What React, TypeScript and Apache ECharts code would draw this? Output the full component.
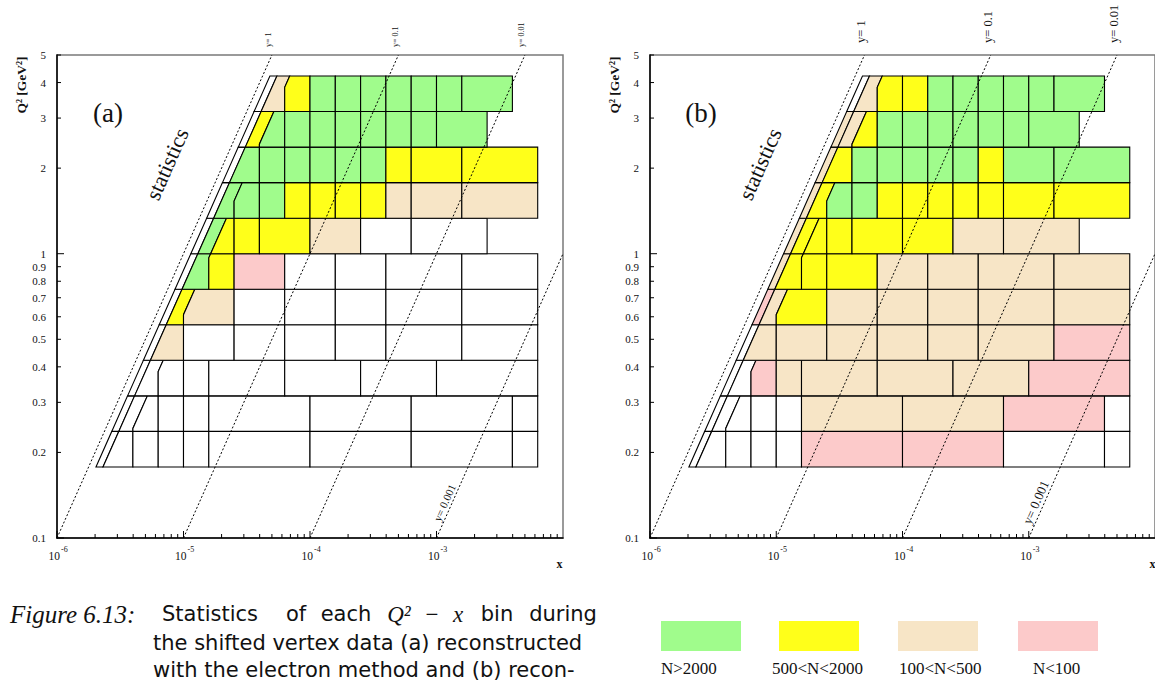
import React, { useEffect, useRef } from 'react';
import * as echarts from 'echarts';

// ---------- data ----------
const S_CM = 1e5; // Q^2 = s * x * y  (GeV^2)
const X_MIN = 1e-6;
const X_MAX = 1e-2;
const Q2_MIN = 0.1;
const Q2_MAX = 5;

// kinematic cut lines (in y) that bound the left-most bins
const Y_CUT_A = 0.875;
const Y_CUT_B = 0.77;
const Y_CUT_C = 0.61;

// x bin edges (5 per decade)
const X_EDGES = [
  1e-6, 1.585e-6, 2.512e-6, 3.981e-6, 6.31e-6,
  1e-5, 1.585e-5, 2.512e-5, 3.981e-5, 6.31e-5,
  1e-4, 1.585e-4, 2.512e-4, 3.981e-4, 6.31e-4,
  1e-3, 1.585e-3, 2.512e-3, 3.981e-3, 6.31e-3, 1e-2,
];
// Q^2 bin edges (8 per decade)
const Q2_EDGES = [0.1778, 0.2371, 0.3162, 0.4217, 0.5623, 0.7499, 1.0, 1.3335, 1.7783, 2.3714, 3.1623, 4.217];

// bin boundaries of each Q^2 row: 'A','B' = slanted cut lines, k = x edge index (clipped by cut C)
const ROW_BOUNDS: (string | number)[][] = [
  ['A', 'B', 3, 4, 5, 6, 10, 14, 18, 19],
  ['A', 'B', 3, 4, 5, 6, 10, 14, 18, 19],
  ['A', 'B', 4, 5, 6, 9, 12, 15, 19],
  ['A', 'B', 5, 7, 9, 11, 13, 16, 19],
  ['A', 'B', 5, 7, 9, 11, 13, 16, 19],
  ['A', 'B', 6, 7, 9, 11, 13, 16, 19],
  ['A', 'B', 6, 7, 8, 10, 12, 14, 17],
  ['A', 'B', 7, 8, 9, 10, 11, 12, 13, 14, 16, 19],
  ['A', 'B', 8, 9, 10, 11, 12, 13, 14, 16, 19],
  ['A', 'B', 8, 9, 10, 11, 12, 13, 14, 15, 17],
  ['A', 'B', 9, 10, 11, 12, 13, 14, 15, 16, 18],
];

// statistics class of each bin: g N>2000, y 500<N<2000, t 100<N<500, p N<100, w empty
const STATS_A = [
  'wwwwwwwww', 'wwwwwwwww', 'wwwwwwww', 'wtwwwwww', 'wytwwwww', 'wgypwwww',
  'wgyyytww', 'wgggyyyyttt', 'wggggggyyy', 'wygggggggg', 'wtyggggggg',
];
const STATS_B = [
  'wwwwwppww', 'wwwwwttpw', 'wwpttttp', 'wttttttp', 'ptyttttt', 'tyyytttt',
  'tyyyyytt', 'tyggyyyyyyy', 'tygggggygg', 'ttyggggggg', 'wtyygggggg',
];

const CLASS_CODES = ['g', 'y', 't', 'p'];
const CLASS_LABELS = ['N>2000', '500<N<2000', '100<N<500', 'N<100'];
const CLASS_COLORS = ['#a0fc8c', '#ffff1a', '#f7e5c6', '#fccaca'];

const Y_LINES = [1, 0.1, 0.01, 0.001];
const Y_LINE_LABELS = ['y= 1', 'y= 0.1', 'y= 0.01', 'y= 0.001'];

const X_DECADES = [1e-6, 1e-5, 1e-4, 1e-3];
const X_DECADE_EXP = ['-6', '-5', '-4', '-3'];
const MINOR_MULT = [2, 3, 4, 5, 6, 7, 8, 9];
const Y_TICKS = [0.1, 0.2, 0.3, 0.4, 0.5, 0.6, 0.7, 0.8, 0.9, 1, 2, 3, 4, 5];
const Y_TICK_LABELS = ['0.1', '0.2', '0.3', '0.4', '0.5', '0.6', '0.7', '0.8', '0.9', '1', '2', '3', '4', '5'];

// ---------- layout ----------
const PANELS = [
  { left: 57, stats: STATS_A, tag: '(a)', yLabFont: 8, yLabGap: 8, y001Font: 11, y001Off: 7 },
  { left: 650, stats: STATS_B, tag: '(b)', yLabFont: 12.5, yLabGap: 12, y001Font: 13, y001Off: 8 },
];
const GRID_TOP = 55;
const GRID_W = 506;
const GRID_H = 483;
const SERIF = '"Liberation Serif", "Times New Roman", serif';
const SANS = '"DejaVu Sans", sans-serif';

function fillOf(code: string): string {
  const i = CLASS_CODES.indexOf(code);
  return i >= 0 ? CLASS_COLORS[i] : '#ffffff';
}

function boundaryPts(code: string | number, q1: number, q2: number): number[][] {
  if (code === 'A' || code === 'B') {
    const yc = code === 'A' ? Y_CUT_A : Y_CUT_B;
    return [[q1 / (S_CM * yc), q1], [q2 / (S_CM * yc), q2]];
  }
  const xk = X_EDGES[code as number];
  const f = (q: number) => Math.max(xk, q / (S_CM * Y_CUT_C));
  const pts = [[f(q1), q1]];
  const qc = xk * S_CM * Y_CUT_C;
  if (qc > q1 && qc < q2) pts.push([xk, qc]);
  pts.push([f(q2), q2]);
  return pts;
}

type Cell = { poly: number[][]; fill: string; xm: number; qm: number };
function buildCells(stats: string[]): Cell[] {
  const out: Cell[] = [];
  ROW_BOUNDS.forEach((bounds, r) => {
    const q1 = Q2_EDGES[r];
    const q2 = Q2_EDGES[r + 1];
    for (let i = 0; i < bounds.length - 1; i++) {
      const L = boundaryPts(bounds[i], q1, q2);
      const R = boundaryPts(bounds[i + 1], q1, q2);
      const poly = [...L, ...R.slice().reverse()];
      out.push({
        poly,
        fill: fillOf(stats[r][i]),
        xm: Math.sqrt(L[0][0] * R[0][0]),
        qm: Math.sqrt(q1 * q2),
      });
    }
  });
  return out;
}

function txt(x: number, y: number, text: string, o: any = {}) {
  return {
    type: 'text',
    x,
    y,
    rotation: o.rotation || 0,
    silent: true,
    z: o.z || 10,
    style: {
      text,
      fill: o.fill || '#111',
      fontSize: o.size || 11,
      fontFamily: o.family || SERIF,
      fontStyle: o.style || 'normal',
      fontWeight: o.weight || 'normal',
      align: o.align || 'center',
      verticalAlign: o.valign || 'middle',
      textAlign: o.align || 'center',
      textVerticalAlign: o.valign || 'middle',
    },
  };
}

function overlayRender(pi: number) {
  const P = PANELS[pi];
  return (params: any, api: any) => {
    const c = (x: number, q: number) => api.coord([x, q]);
    const ch: any[] = [];
    // y = const lines
    Y_LINES.forEach((yv, li) => {
      let x0 = Q2_MIN / (S_CM * yv), q0 = Q2_MIN;
      if (x0 < X_MIN) { x0 = X_MIN; q0 = S_CM * yv * X_MIN; }
      let x1 = Q2_MAX / (S_CM * yv), q1 = Q2_MAX;
      if (x1 > X_MAX) { x1 = X_MAX; q1 = S_CM * yv * X_MAX; }
      const a = c(x0, q0);
      const b = c(x1, q1);
      ch.push({
        type: 'line',
        shape: { x1: a[0], y1: a[1], x2: b[0], y2: b[1] },
        style: { stroke: '#000', lineWidth: 1, lineDash: [2, 2] },
      });
      if (q1 >= Q2_MAX - 1e-9) {
        ch.push(txt(b[0] - 3, b[1] - P.yLabGap, Y_LINE_LABELS[li], {
          rotation: Math.PI / 2, align: 'left', size: P.yLabFont,
        }));
      } else {
        const dx = b[0] - a[0];
        const dy = b[1] - a[1];
        const len = Math.hypot(dx, dy);
        const ux = dx / len, uy = dy / len;
        const qa = 0.13;
        const p = c(qa / (S_CM * yv), qa);
        ch.push(txt(p[0] + uy * P.y001Off, p[1] - ux * P.y001Off, Y_LINE_LABELS[li], {
          rotation: Math.atan2(-dy, dx), size: P.y001Font,
        }));
      }
    });
    // x ticks and labels
    X_DECADES.forEach((d, di) => {
      const p = c(d, Q2_MIN);
      ch.push({ type: 'line', shape: { x1: p[0], y1: p[1], x2: p[0], y2: p[1] - 7 }, style: { stroke: '#000', lineWidth: 1 } });
      MINOR_MULT.forEach((m) => {
        const v = m * d;
        if (v >= X_MAX) return;
        const pm = c(v, Q2_MIN);
        ch.push({ type: 'line', shape: { x1: pm[0], y1: pm[1], x2: pm[0], y2: pm[1] - 4 }, style: { stroke: '#000', lineWidth: 1 } });
      });
      ch.push(txt(p[0] + 3, p[1] + 18, '10', { align: 'right', size: 11.5 }));
      ch.push(txt(p[0] + 4, p[1] + 11, X_DECADE_EXP[di], { align: 'left', size: 8 }));
    });
    // y ticks and labels
    Y_TICKS.forEach((v, i) => {
      const p = c(X_MIN, v);
      const L = v === 1 || v === 0.1 ? 7 : 4;
      ch.push({ type: 'line', shape: { x1: p[0], y1: p[1], x2: p[0] + L, y2: p[1] }, style: { stroke: '#000', lineWidth: 1 } });
      ch.push(txt(p[0] - 11, p[1], Y_TICK_LABELS[i], { align: 'right', size: 11 }));
    });
    return { type: 'group', children: ch };
  };
}

function buildOption() {
  const series: any[] = [];
  PANELS.forEach((P, pi) => {
    const cells = buildCells(P.stats);
    series.push({
      type: 'custom',
      coordinateSystem: 'cartesian2d',
      xAxisIndex: pi,
      yAxisIndex: pi,
      silent: true,
      z: 2,
      data: cells.map((cl, i) => [cl.xm, cl.qm, i]),
      encode: { x: 0, y: 1 },
      renderItem: (params: any, api: any) => {
        const cl = cells[params.dataIndex];
        const pts = cl.poly.map((v) => api.coord(v));
        return {
          type: 'polygon',
          shape: { points: pts },
          style: { fill: cl.fill, stroke: '#000', lineWidth: 1.1 },
        };
      },
    });
    series.push({
      type: 'custom',
      coordinateSystem: 'cartesian2d',
      xAxisIndex: pi,
      yAxisIndex: pi,
      silent: true,
      z: 5,
      data: [[1e-4, 1]],
      encode: { x: 0, y: 1 },
      renderItem: overlayRender(pi),
    });
  });

  const graphic: any[] = [];
  PANELS.forEach((P) => {
    const L = P.left;
    graphic.push(txt(L + 51, 113, P.tag, { size: 27 }));
    graphic.push(txt(L + 110, 164, 'statistics', { size: 22, rotation: (66 * Math.PI) / 180 }));
    graphic.push(txt(L - 36, 85, 'Q² [GeV²]', { size: 13.5, weight: 'bold', rotation: Math.PI / 2 }));
    graphic.push(txt(L + GRID_W - 3.5, 564, 'x', { size: 12, weight: 'bold' }));
  });
  // caption
  const CAP1 = 614;
  const CAP2 = 643;
  const CAP3 = 670;
  graphic.push(txt(10, CAP1, 'Figure 6.13:', { align: 'left', size: 25, style: 'italic' }));
  const words: [number, string, any][] = [
    [210, 'Statistics', {}],
    [296, 'of', {}],
    [346, 'each', {}],
    [399, 'Q²', { family: SERIF, style: 'italic', size: 23 }],
    [432, '−', { family: SERIF, size: 23 }],
    [458, 'x', { family: SERIF, style: 'italic', size: 23 }],
    [497, 'bin', {}],
    [563, 'during', {}],
  ];
  words.forEach(([x, w, o]) => graphic.push(txt(x, CAP1, w, { size: 21, family: SANS, ...o })));
  graphic.push(txt(153, CAP2, 'the shifted vertex data (a) reconstructed', { align: 'left', size: 21, family: SANS }));
  graphic.push(txt(153, CAP3, 'with the electron method and (b) recon-', { align: 'left', size: 21, family: SANS }));
  // legend
  const legX = [661, 779, 898, 1018];
  const legLabX = [661, 772, 899, 1033];
  CLASS_CODES.forEach((code, i) => {
    graphic.push({
      type: 'rect',
      shape: { x: legX[i], y: 621, width: 80, height: 30 },
      style: { fill: CLASS_COLORS[i] },
      silent: true,
    });
    graphic.push(txt(legLabX[i], 668, CLASS_LABELS[i], { align: 'left', size: 17 }));
  });

  const axisCommon = {
    type: 'log',
    logBase: 10,
    axisLine: { show: true, onZero: false, lineStyle: { color: '#000', width: 1.5 } },
    axisTick: { show: false },
    axisLabel: { show: false },
    splitLine: { show: false },
    minorTick: { show: false },
    minorSplitLine: { show: false },
  };

  return {
    animation: false,
    backgroundColor: '#ffffff',
    grid: PANELS.map((P) => ({
      left: P.left,
      top: GRID_TOP,
      width: GRID_W,
      height: GRID_H,
      show: true,
      borderColor: '#7a7a7a',
      borderWidth: 1.5,
      backgroundColor: 'transparent',
    })),
    xAxis: PANELS.map((P, i) => ({ ...axisCommon, gridIndex: i, min: X_MIN, max: X_MAX })),
    yAxis: PANELS.map((P, i) => ({ ...axisCommon, gridIndex: i, min: Q2_MIN, max: Q2_MAX })),
    series,
    graphic,
  };
}

export default function App() {
  const ref = useRef<HTMLDivElement>(null);
  useEffect(() => {
    const chart = echarts.init(ref.current as HTMLDivElement, null, { renderer: 'svg' });
    chart.setOption(buildOption() as any);
    return () => chart.dispose();
  }, []);
  return (
    <div
      ref={ref}
      style={{ position: 'fixed', left: 0, top: 0, width: 1155, height: 682, background: '#fff' }}
    />
  );
}
